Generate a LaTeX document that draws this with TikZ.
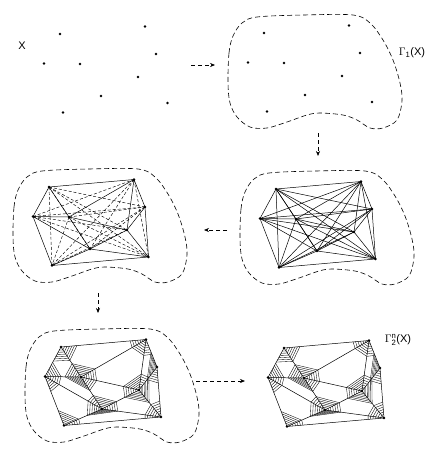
\documentclass[tikz,border=0pt]{standalone}
\usepackage{amsmath}
\usepackage[no-math]{fontspec}
\setmainfont{Liberation Sans}
\usetikzlibrary{calc}
\usetikzlibrary{arrows.meta}

% the nine points of X, placed round the first one
\newcommand{\placepoints}[3]{%
	\begin{scope}[shift={(#2)}]
	\coordinate (#1-1) at (0,0);
	\coordinate (#1-2) at (-16,29.5);
	\coordinate (#1-3) at (20,30);
	\coordinate (#1-4) at (85,-7.5);
	\coordinate (#1-5) at (96,20);
	\coordinate (#1-6) at (78,43);
	\coordinate (#1-7) at (41,62);
	\coordinate (#1-8) at (#3);
	\coordinate (#1-9) at (3,78.5);
	\end{scope}}
\newcommand{\drawpoints}[1]{\foreach \n in {1,...,9} \fill (#1-\n) circle (1.4pt);}
\newcommand{\blob}[1]{%
	\draw[outline,shift={(#1-1)}] plot[smooth cycle,tension=0.55] coordinates {
	(-36,50) (-35,20) (-31,3) (-22,-10) (-7,-16) (40,-18) (89,-18) (106,-10)
	(119,7) (129,27) (136,50) (138,68) (133,87) (119,95) (106,95) (93,87)
	(79,82) (56,80) (43,82) (23,89) (3,95) (-14,94) (-27,84) (-34,70)};}
\newcommand{\triangulation}[1]{%
	\foreach \i/\j in {1/2,1/4,4/5,5/8,8/9,9/2,1/3,2/3,3/4,3/6,3/7,2/7,6/7,4/6,5/6,6/8,7/8,7/9}
		\draw[edge] (#1-\i) -- (#1-\j);}
\newcommand{\webcorner}[3]{%
	\foreach \r in {3.5,6,...,16}
		\draw[web] ($(#1)!\r pt!(#2)$) -- ($(#1)!\r pt!(#3)$);}
\newcommand{\spiderweb}[1]{%
	\foreach \a/\b/\c in {1/2/3,1/3/4,3/4/6,4/5/6,5/6/8,6/7/8,3/6/7,2/3/7,2/7/9,7/8/9} {
		\webcorner{#1-\a}{#1-\b}{#1-\c}
		\webcorner{#1-\b}{#1-\c}{#1-\a}
		\webcorner{#1-\c}{#1-\a}{#1-\b}}}

\begin{document}
\begin{tikzpicture}[x=1pt,y=-1pt,
	outline/.style={dash pattern=on 5pt off 3pt,line width=0.6pt},
	edge/.style={line width=0.5pt},
	faint/.style={dash pattern=on 3pt off 2pt,line width=0.45pt},
	web/.style={line width=0.35pt},
	flow/.style={dash pattern=on 4pt off 3pt,line width=0.6pt,-{Stealth[length=5pt,width=4pt]}},
	label/.style={font=\fontsize{11}{13}\selectfont,inner sep=0pt}]
	\useasboundingbox (0,0) rectangle (441,458);

	\placepoints{a}{60,34}{107.5,69}
	\placepoints{b}{264,33}{108,69}
	\placepoints{c}{276,189}{99.5,70}
	\placepoints{d}{49,187}{99.5,70}
	\placepoints{e}{61,347}{100,70}
	\placepoints{f}{284,348}{100,70}

	% X
	\node[label] (x) at (22,46) {X};
	\drawpoints{a}

	% Gamma_1(X)
	\blob{b}
	\drawpoints{b}
	\node[label] (g1) at (412,53) {$\Gamma$\textsubscript{1}(X)};

	% complete graph
	\blob{c}
	\foreach \i in {1,...,9}
		\foreach \j in {1,...,9} {
			\ifnum\i<\j \draw[edge] (c-\i) -- (c-\j); \fi}
	\drawpoints{c}

	% triangulation and the other edges
	\blob{d}
	\foreach \i/\j in {1/5,1/6,1/7,1/8,1/9,2/4,2/5,2/6,2/8,3/5,3/8,3/9,4/7,4/8,4/9,5/7,5/9,6/9}
		\draw[faint] (d-\i) -- (d-\j);
	\triangulation{d}
	\drawpoints{d}

	% webs
	\blob{e}
	\triangulation{e}
	\spiderweb{e}
	\drawpoints{e}

	\triangulation{f}
	\spiderweb{f}
	\drawpoints{f}
	\node[label] (g2) at (398,340) {$\Gamma_{\text{2}}^{\text{n}}$(X)};

	% arrows
	\coordinate (s1) at (191,65);  \coordinate (t1) at (215,65);
	\coordinate (s2) at (318,133); \coordinate (t2) at (318,156);
	\coordinate (s3) at (227,230); \coordinate (t3) at (204,230);
	\coordinate (s4) at (98,293);  \coordinate (t4) at (98,313);
	\coordinate (s5) at (196,381); \coordinate (t5) at (245,381);
	\draw[flow] (s1) -- (t1);
	\draw[flow] (s2) -- (t2);
	\draw[flow] (s3) -- (t3);
	\draw[flow] (s4) -- (t4);
	\draw[flow] (s5) -- (t5);
\end{tikzpicture}
\end{document}
